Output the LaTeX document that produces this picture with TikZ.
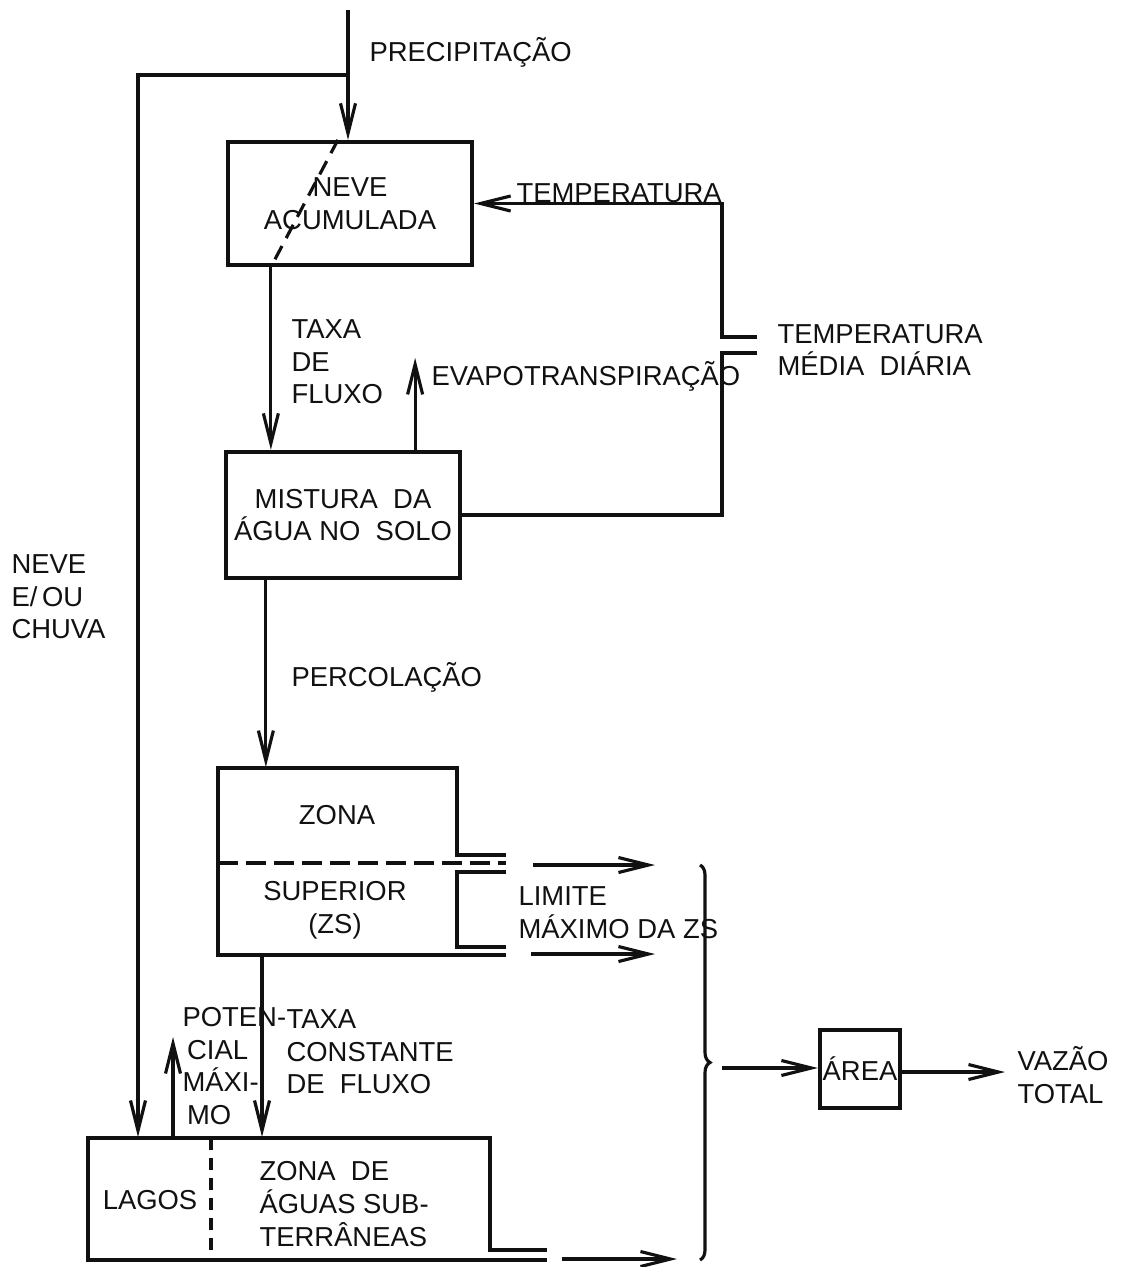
\documentclass[tikz,border=0pt]{standalone}
\usepackage{fontspec}
\setmainfont{Liberation Sans}
\definecolor{HYDink}{HTML}{111111}
\usetikzlibrary{arrows.meta, calc, positioning, decorations.pathreplacing}

\begin{document}
\begin{tikzpicture}[x=0.1mm, y=-0.1mm, line width=0.9pt, HYDink,
      every node/.style={font=\fontsize{7.8}{9.3}\selectfont},
      flow/.style={-{Straight Barb[length=3mm, width=1.5mm]}},
      box/.style={draw, line width=1.2pt, align=center, inner sep=0pt},
      lbl/.style={align=left, inner sep=0pt, anchor=west}]
   \useasboundingbox (0,0) rectangle (1121,1267);
   % Storage boxes
   \node[box, minimum width=24.4mm, minimum height=12.3mm] (neve) at (350,203.5) {NEVE\\ACUMULADA};
   \node[box, minimum width=23.4mm, minimum height=12.6mm] (mistura) at (343,515) {MISTURA~~DA\\ÁGUA NO~~SOLO};
   \node[box, minimum width=8mm, minimum height=7.8mm] (area) at (860,1069) {ÁREA};
   % Precipitation and snow / rain branch
   \coordinate (rain) at (348,10);
   \coordinate (split) at (348,75);
   \coordinate (snowrain) at (138,75);
   \draw[flow] (rain) -- (rain |- neve.north);
   \node[lbl] (precip) at (368,52) {PRECIPITAÇÃO};
   \draw[flow] (split) -- (snowrain) -- (138,1137);
   \node[lbl] (neveouchuva) at (10,597) {NEVE\\E/\,OU\\CHUVA};
   % Melt through the snowpack
   \coordinate (meltin) at ($(neve.north west)+(112,0)$);
   \coordinate (melt) at ($(neve.south west)+(45,0)$);
   \draw[dash pattern=on 1.5mm off 0.9mm] (meltin) -- (melt);
   \draw[flow] (melt) -- (melt |- mistura.north);
   \node[lbl] (taxa) at (290,362) {TAXA\\DE\\FLUXO};
   % Temperature inputs
   \coordinate (tin1) at (757,337);
   \coordinate (tin2) at (757,353);
   \draw[flow] (tin1) -- ++(-35,0) |- (neve.east);
   \node[lbl] (temp) at (515,193) {TEMPERATURA};
   \draw (tin2) -- ++(-35,0) |- (mistura.east);
   \node[lbl] (tempmedia) at (776,350) {TEMPERATURA\\MÉDIA~~DIÁRIA};
   % Evapotranspiration
   \coordinate (evap) at ($(mistura.north east)+(-47,0)$);
   \draw[flow] (evap) -- ++(0,-92);
   \node[lbl] (evaplbl) at (430,376) {EVAPOTRANSPIRAÇÃO};
   % Percolation
   \coordinate (perc) at ($(mistura.south west)+(42,0)$);
   \draw[flow] (perc) -- ++(0,187);
   \node[lbl] (perclbl) at (290,677) {PERCOLAÇÃO};
   % Upper zone (ZS)
   \draw[line width=1.2pt] (506,855) -- (457,855) -- (457,768) -- (218,768) -- (218,955) -- (506,955);
   \draw[line width=1.2pt] (506,872) -- (457,872) -- (457,947) -- (506,947);
   \draw[line width=1.1pt, dash pattern=on 2mm off 0.8mm] (218,863) -- (506,863);
   \node[align=center, inner sep=0pt] (zona) at (337,815) {ZONA};
   \node[align=center, inner sep=0pt] (superior) at (335,910) {SUPERIOR\\(ZS)};
   \coordinate (zsout1) at (533,865);
   \coordinate (zsout2) at (531,954);
   \draw[flow] (zsout1) -- ++(122,0);
   \draw[flow] (zsout2) -- ++(124,0);
   \node[lbl] (limite) at (517,913) {LIMITE\\MÁXIMO DA ZS};
   % Constant flow to groundwater and lakes potential
   \coordinate (zsdown) at (262,955);
   \draw[flow] (zsdown) -- (262,1137);
   \node[lbl] (taxacte) at (285,1052) {TAXA\\CONSTANTE\\DE~~FLUXO};
   \coordinate (lagosup) at (173,1138);
   \draw[flow] (lagosup) -- (173,1037);
   \node[lbl] (potencial) at (181,1066) {POTEN-\\\,CIAL\\MÁXI-\\\,MO};
   % Lakes and groundwater zone
   \draw[line width=1.2pt] (547,1250) -- (490,1250) -- (490,1138) -- (88,1138) -- (88,1260) -- (547,1260);
   \draw[line width=1.1pt, dash pattern=on 1.2mm off 0.8mm] (211,1138) -- (211,1260);
   \node[inner sep=0pt] (lagos) at (150,1200) {LAGOS};
   \node[lbl] (subterr) at (258,1204) {ZONA~~DE\\ÁGUAS SUB-\\TERRÂNEAS};
   \coordinate (gwout) at (562,1259);
   \draw[flow] (gwout) -- ++(115,0);
   % Sum of outflows over the area
   \draw[decorate, decoration={brace, amplitude=1mm}] (700,865) -- (700,1260);
   \coordinate (sum) at (722,1068);
   \draw[flow] (sum) -- (area.west |- sum);
   \coordinate (vazao) at (1005,1072);
   \draw[flow] (area.east |- vazao) -- (vazao);
   \node[lbl] (vazaolbl) at (1016,1075) {VAZÃO\\TOTAL};
\end{tikzpicture}
\end{document}
